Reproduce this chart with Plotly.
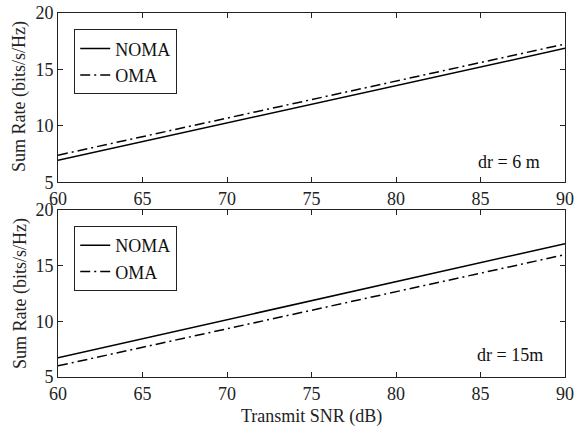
import plotly.graph_objects as go
from plotly.subplots import make_subplots

snr = [60, 65, 70, 75, 80, 85, 90]
top_noma = [6.95, 8.60, 10.25, 11.90, 13.55, 15.20, 16.87]
top_oma = [7.40, 9.04, 10.68, 12.32, 13.96, 15.60, 17.25]
bot_noma = [6.73, 8.43, 10.13, 11.83, 13.53, 15.23, 16.94]
bot_oma = [6.00, 7.66, 9.32, 10.98, 12.64, 14.30, 15.96]
x_ticks = [60, 65, 70, 75, 80, 85, 90]
y_ticks = [5, 10, 15, 20]

FONT = "Liberation Serif"
FS = 18
dash = "10px,4px,2px,4px"

fig = make_subplots(rows=2, cols=1, vertical_spacing=0.07)
fig.add_trace(go.Scatter(x=snr, y=top_noma, mode="lines", name="NOMA",
                         line=dict(color="black", width=1.5), legend="legend"), row=1, col=1)
fig.add_trace(go.Scatter(x=snr, y=top_oma, mode="lines", name="OMA",
                         line=dict(color="black", width=1.5, dash=dash), legend="legend"), row=1, col=1)
fig.add_trace(go.Scatter(x=snr, y=bot_noma, mode="lines", name="NOMA",
                         line=dict(color="black", width=1.5), legend="legend2"), row=2, col=1)
fig.add_trace(go.Scatter(x=snr, y=bot_oma, mode="lines", name="OMA",
                         line=dict(color="black", width=1.5, dash=dash), legend="legend2"), row=2, col=1)

axis_style = dict(showline=True, mirror="ticks", linecolor="#222", linewidth=1,
                  ticks="inside", ticklen=5, tickcolor="#222", showgrid=False,
                  zeroline=False, automargin=False,
                  tickfont=dict(family=FONT, size=FS, color="#222"))

fig.update_xaxes(range=[60, 90], tickvals=x_ticks, **axis_style)
fig.update_yaxes(range=[5, 20], tickvals=y_ticks, **axis_style)

L, R, T, B = 58, 11, 13, 51
W, H = 576, 428
fig.update_layout(
    xaxis=dict(domain=[0, 1]), yaxis=dict(domain=[0.535, 1.0]),
    xaxis2=dict(domain=[0, 1]), yaxis2=dict(domain=[0, 0.46]),
)

leg = dict(bgcolor="white", bordercolor="#222", borderwidth=1,
           font=dict(family=FONT, size=FS, color="#111"),
           xanchor="left", yanchor="top", tracegroupgap=0, itemwidth=30)
fig.update_layout(
    legend=dict(x=0.032, y=0.955, **leg),
    legend2=dict(x=0.032, y=0.415, **leg),
    showlegend=True,
    plot_bgcolor="white", paper_bgcolor="white",
    width=W, height=H,
    margin=dict(l=L, r=R, t=T, b=B, autoexpand=False),
    font=dict(family=FONT, color="#222"),
)

ph = H - T - B
def py(pix):
    return (H - B - pix) / ph
pw = W - L - R
def px(pix):
    return (pix - L) / pw

fig.add_annotation(text="dr = 6 m", xref="paper", yref="paper", x=px(542), y=py(162),
                   xanchor="right", yanchor="middle", showarrow=False,
                   font=dict(family=FONT, size=FS, color="#111"))
fig.add_annotation(text="dr = 15m", xref="paper", yref="paper", x=px(545), y=py(355),
                   xanchor="right", yanchor="middle", showarrow=False,
                   font=dict(family=FONT, size=FS, color="#111"))
fig.add_annotation(text="Sum Rate (bits/s/Hz)", xref="paper", yref="paper", x=px(20), y=py(97),
                   xanchor="center", yanchor="middle", textangle=-90, showarrow=False,
                   font=dict(family=FONT, size=FS, color="#222"))
fig.add_annotation(text="Sum Rate (bits/s/Hz)", xref="paper", yref="paper", x=px(20), y=py(294),
                   xanchor="center", yanchor="middle", textangle=-90, showarrow=False,
                   font=dict(family=FONT, size=FS, color="#222"))
fig.add_annotation(text="Transmit SNR (dB)", xref="paper", yref="paper", x=px(311), y=py(416),
                   xanchor="center", yanchor="middle", showarrow=False,
                   font=dict(family=FONT, size=FS, color="#222"))

fig.write_html("out.html", config={"displayModeBar": False},
               post_script="document.body.style.margin='0';document.body.style.overflow='hidden';")
